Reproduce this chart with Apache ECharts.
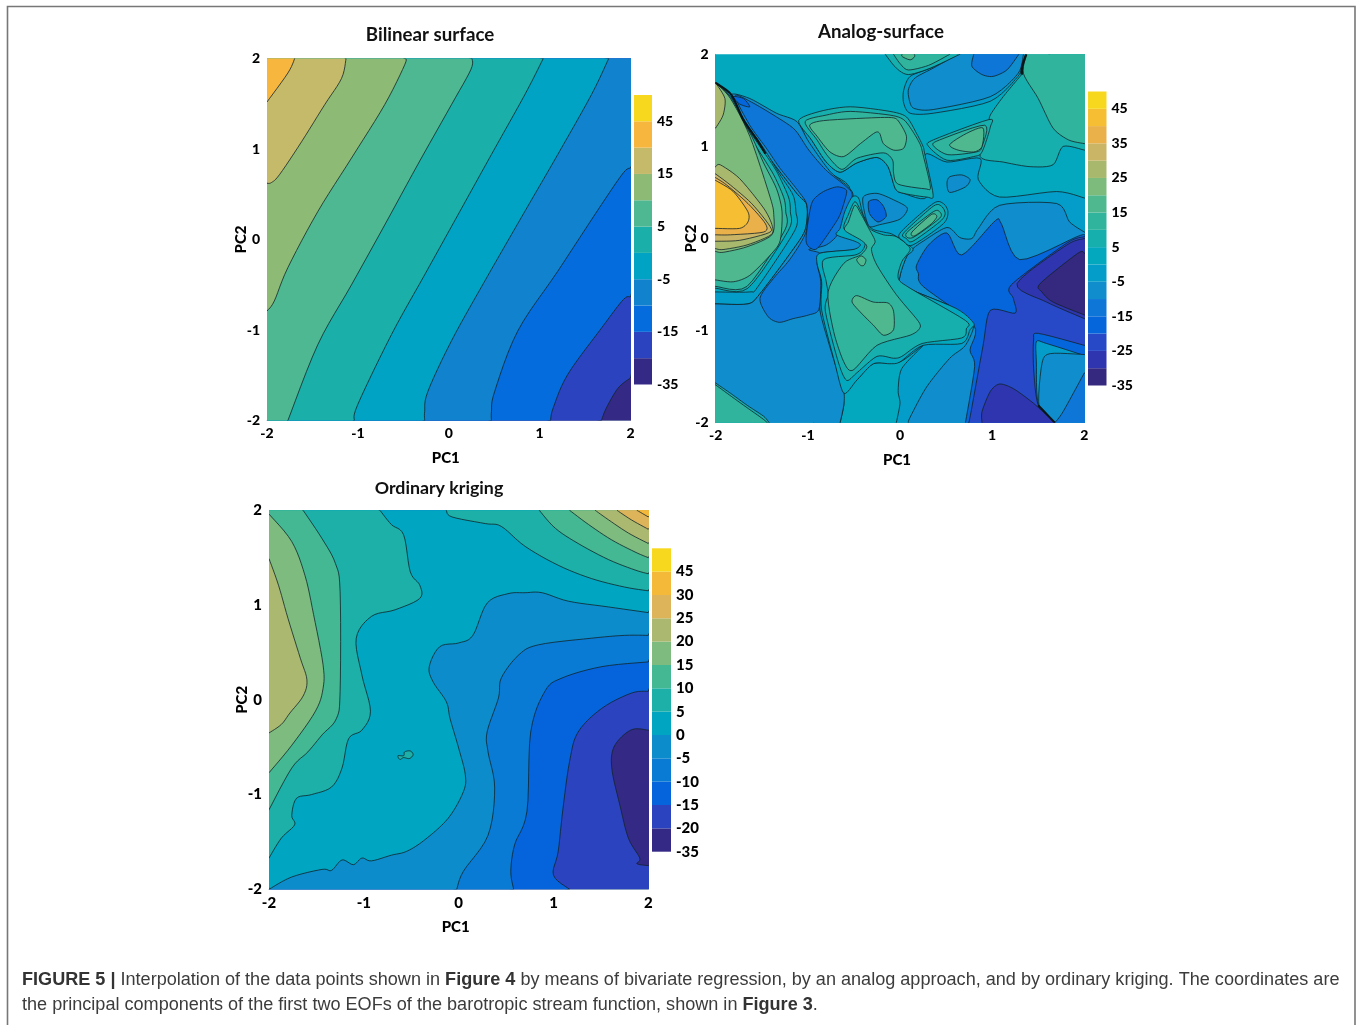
<!DOCTYPE html>
<html>
<head>
<meta charset="utf-8">
<style>html,body{margin:0;padding:0;background:#fff}#c{width:1357px;height:1025px}</style>
<script src="https://cdn.jsdelivr.net/npm/echarts@6/dist/echarts.min.js"></script>
</head>
<body>
<div id="c"></div>
<script>
// ---------- texts ----------
const panelTitles = ['Bilinear surface', 'Analog-surface', 'Ordinary kriging'];
const axisTicks = [-2, -1, 0, 1, 2];
const captionLine1 = '{b|FIGURE 5 |} Interpolation of the data points shown in {b|Figure 4} by means of bivariate regression, by an analog approach, and by ordinary kriging. The coordinates are';
const captionLine2 = 'the principal components of the first two EOFs of the barotropic stream function, shown in {b|Figure 3}.';

// ---------- colour levels, bottom to top ----------
const bilinearColors = ['#342A85','#2C43C0','#046CDC','#1182CE','#00A3C3','#1BAFA9','#4DB891','#8DBA74','#C5B96A','#F7B73E','#F8D81E'];
const analogColors = ['#35287F','#2E35AE','#2748C7','#0566DC','#0E76D6','#0F8DCC','#049CC8','#03A8BE','#17AFAD','#30B49D','#4FB88F','#7DBB7C','#A8B96E','#C9B565','#EAB04A','#F6BF33','#F8D81E'];
const krigingColors = ['#342A85','#2C43C0','#0564DC','#0A7BD4','#0D8CCB','#00A5C1','#1CB0A8','#43B892','#7DBB7F','#ABB970','#DDB45A','#F5B93A','#F8D81E'];

// colour bar tick labels, one per level boundary from the bottom
const bilinearBarLabels = ['-35','','-15','','-5','','5','','15','','45',''];
const analogBarLabels = ['-35','','-25','','-15','','-5','','5','','15','','25','','35','','45',''];
const krigingBarLabels = ['-35','-20','-15','-10','-5','0','5','10','15','20','25','30','45',''];

// ---------- helper anchor points beyond the axes (PC1, PC2) ----------
const TL = [-3, 3], TR = [3, 3], BL = [-3, -3], BR = [3, -3];

// ---------- Bilinear surface contours (PC1, PC2) ----------
const bi9 = [[2,-1.53],[1.865,-1.64],[1.735,-1.86],[1.68,-2]];
const bi8 = [[2,-.635],[1.92,-.665],[1.68,-.98],[1.31,-1.49],[1.15,-1.86],[1.12,-2]];
const bi7 = [[2,.79],[1.92,.735],[1.68,.385],[1.2,-.35],[.76,-1.01],[.505,-1.68],[.47,-1.9],[.47,-2]];
const bi6 = [[1.76,2],[1.57,1.6],[1.2,.94],[.837,.31],[.396,-.46],[.03,-1.12],[-.23,-1.68],[-.265,-1.9],[-.265,-2]];
const bi5 = [[1.04,2],[.837,1.6],[.47,.94],[.1,.27],[-.265,-.39],[-.63,-1.05],[-1,-1.82],[-1.04,-2]];
const bi4 = [[.257,2],[.242,1.875],[.03,1.49],[-.34,.83],[-.705,.16],[-1.07,-.5],[-1.44,-1.16],[-1.77,-2]];
const bi3 = [[-.48,2],[-.485,1.93],[-.705,1.49],[-1.07,.9],[-1.44,.31],[-1.77,-.31],[-1.92,-.68],[-2,-.79]];
const bi2 = [[-1.13,2],[-1.18,1.78],[-1.365,1.49],[-1.62,1.08],[-1.86,.72],[-1.95,.63],[-2,.62]];
const bi1 = [[-1.695,2],[-1.77,1.84],[-2,1.52]];

// ---------- Ordinary kriging contours (PC1, PC2) ----------
const krB3 = [[1.17,-2],[1,-1.85],[1.05,-1.6],[1.1,-1.15],[1.17,-.65],[1.26,-.34],[1.51,-.09],[1.82,.07],[2,.09]];
const krB2 = [[.58,-2],[.55,-1.81],[.59,-1.53],[.72,-1.18],[.76,-.34],[.91,.09],[1.09,.23],[1.51,.35],[2,.4]];
const krB1 = [[-.02,-2],[.05,-1.81],[.31,-1.43],[.38,-.93],[.31,-.55],[.3,-.34],[.42,.02],[.45,.23],[.63,.47],[.84,.58],[1.4,.65],[1.75,.68],[2,.68]];
const krB0 = [[-2,-2],[-1.76,-1.87],[-1.44,-1.79],[-1.34,-1.8],[-1.23,-1.69],[-1.11,-1.74],[-1.02,-1.67],[-.92,-1.7],[-.71,-1.64],[-.55,-1.6],[-.36,-1.48],[-.11,-1.25],[.05,-.97],[.07,-.79],[0,-.51],[-.09,-.2],[-.13,-.02],[-.27,.19],[-.31,.35],[-.2,.56],[0,.6],[.15,.68],[.3,1.02],[.52,1.12],[.7,1.13],[.88,1.13],[1.16,1.04],[1.58,.98],[2,.92]];
const krB4 = [[2,-.32],[1.84,-.31],[1.7,-.41],[1.62,-.55],[1.62,-.76],[1.7,-1.11],[1.79,-1.46],[1.91,-1.67],[1.88,-1.73],[2,-1.75]];
const krR1 = [[-.13,2],[-.07,1.93],[.28,1.86],[.45,1.83],[.7,1.62],[1.05,1.42],[1.4,1.28],[1.75,1.19],[2,1.15]];
const krR2 = [[.85,2],[1.02,1.81],[1.26,1.65],[1.58,1.48],[1.86,1.37],[2,1.33]];
const krR3 = [[1.17,2],[1.37,1.85],[1.61,1.69],[1.86,1.56],[2,1.5]];
const krR4 = [[1.44,2],[1.58,1.9],[1.79,1.76],[2,1.65]];
const krR5 = [[1.67,2],[1.82,1.9],[2,1.8]];
const krR6 = [[1.88,2],[2,1.93]];
const krL4 = [[-.83,2],[-.71,1.85],[-.58,1.74],[-.51,1.35],[-.41,1.21],[-.41,1.07],[-.67,.95],[-.92,.88],[-1.08,.65],[-1.02,.26],[-.93,-.12],[-1.02,-.32],[-1.16,-.41],[-1.23,-.72],[-1.34,-.92],[-1.55,-1],[-1.71,-1.04],[-1.76,-1.22],[-1.73,-1.32],[-1.87,-1.46],[-2,-1.67]];
const krL3 = [[-1.64,2],[-1.44,1.7],[-1.3,1.44],[-1.25,1.14],[-1.25,.09],[-1.29,-.2],[-1.44,-.37],[-1.59,-.55],[-1.76,-.72],[-2,-1.16]];
const krL2 = [[-2,1.96],[-1.76,1.67],[-1.62,1.31],[-1.53,.9],[-1.43,.37],[-1.43,.12],[-1.51,-.12],[-1.76,-.48],[-2,-.77]];
const krL1 = [[-2,1.49],[-1.9,1.21],[-1.8,.86],[-1.67,.44],[-1.6,.21],[-1.64,.04],[-1.78,-.14],[-1.87,-.26],[-2,-.35]];
const krSpot = [[-.64,-.59],[-.58,-.59],[-.57,-.55],[-.51,-.54],[-.48,-.58],[-.52,-.62],[-.58,-.61],[-.62,-.63]];

// ---------- Analog surface contours (PC1, PC2) ----------
const anC6 = [[-.94,-2],[-.87,-.83],[-.87,-.18],[-.54,.51],[-.8,.74],[-.99,1.03],[-1.09,1.27],[-.96,1.07],[-.8,.83],[-.65,.72],[-.47,.82],[-.25,.88],[-.13,.78],[-.05,.54],[.04,.49],[.29,.45],[.27,.91],[.51,.83],[.87,.87],[.85,.64],[1.08,.45],[1.7,.51],[2,.44]];
const anT2 = [[1.37,2],[1.32,1.88],[1.28,1.76],[.98,1.49],[.36,1.36],[.11,1.36],[.04,1.47],[.04,1.61],[.11,1.76],[.33,1.85],[.65,2]];
const anT3 = [[1.34,2],[1.28,1.79],[.98,1.54],[.36,1.4],[.16,1.41],[.11,1.47],[.09,1.61],[.16,1.74],[.36,1.85],[.63,2]];
const anT4 = [[.8,2],[.78,1.87],[.89,1.78],[1.01,1.76],[1.16,1.83],[1.29,2]];
const anT1 = [[-.16,2],[-.04,1.85],[.09,1.78],[.33,1.85],[.65,2]];
const anT1b = [[-.07,2],[0,1.9],[.09,1.83],[.31,1.88],[.54,2]];
const anT1c = [[.02,1.98],[.11,1.94],[.16,1.98],[.13,2.03],[.05,2.03]];
const anT5 = [[1.32,1.78],[1.12,1.54],[.98,1.34],[.96,1.23],[.87,.89],[1.12,.83],[1.41,.78],[1.66,.8],[1.77,1],[2,.96]];
const anT6 = [[1.37,2],[1.34,1.79],[1.5,1.52],[1.66,1.2],[1.83,1.07],[2,1.03]];
const anV0 = [[.31,1],[.36,1.07],[.96,1.29],[.98,1.21],[.89,.94],[.8,.89],[.51,.85]];
const anV1 = [[.36,1.01],[.43,1.07],[.92,1.23],[.89,1],[.83,.94],[.52,.91]];
const anV2 = [[.54,1.02],[.72,1.14],[.9,1.2],[.89,1],[.8,.94],[.63,.96]];
const anE = [[.51,.6],[.54,.67],[.67,.69],[.76,.64],[.71,.56],[.54,.5]];
const anQ = [[.09,-2],[.11,-1.94],[.29,-1.61],[.54,-1.3],[.71,-1.16],[.8,-.92],[.61,-.76],[.04,-.52],[0,-.41],[.07,-.2],[.14,-.11],[.25,-.03],[.51,.12],[.65,.01],[.78,0],[.85,.11],[1.08,.36],[1.7,.38],[1.84,.18],[2,.07]];
const anLC = [[-.65,-2],[-.61,-1.81],[-.61,-1.68],[-.47,-1.54],[-.29,-1.36],[0,-1.34],[.25,-1.16],[.02,-1.41],[-.02,-1.65],[0,-1.79],[-.04,-2]];
const anK = [[.71,-2],[.81,-1.39],[.76,-1.21],[.8,-.94],[.25,-.52],[.2,-.38],[.18,-.29],[.31,-.07],[.51,.06],[.67,-.18],[1.03,.19],[1.1,.16],[1.3,-.23],[1.92,.02],[2,.04]];
const anA = [[.74,-2],[.76,-1.94],[.9,-1.17],[.98,-.78],[1.25,-.81],[1.23,-.65],[1.21,-.5],[1.81,-.05],[2,.02]];
const anB1 = [[2,0],[1.81,-.07],[1.27,-.49],[1.59,-.69],[2,-.87]];
const anB0 = [[2,-.16],[1.93,-.16],[1.52,-.49],[1.54,-.58],[1.66,-.69],[2,-.83]];
const anP1 = [[1.68,-2],[1.5,-1.81],[1.45,-1.41],[1.45,-1.1],[1.5,-1.03],[2,-1.16]];
const anP2 = [[1.68,-2],[1.5,-1.79],[1.48,-1.34],[1.48,-1.12],[1.59,-1.14],[2,-1.27]];
const anP3 = [[1.68,-2],[1.51,-1.83],[1.54,-1.36],[1.63,-1.25],[2,-1.26]];
const anCorner = [[1.68,-2],[1.77,-1.88],[2,-1.46]];
const anTri = [[.89,-2],[.89,-1.88],[.98,-1.66],[1.08,-1.58],[1.23,-1.63],[1.45,-1.79],[1.68,-2]];
const anS = [[-2,-.71],[-1.65,-.71],[-1.52,-.6],[-1.19,-.16],[-1.03,.09],[-1.01,.36],[-1.12,.49],[-1.45,.92],[-1.7,1.3],[-1.83,1.56],[-2,1.69]];
const anM = [[-2,-.71],[-1.65,-.71],[-1.52,-.6],[-1.19,-.16],[-1.03,.09],[-1.01,.36],[-1.12,.49],[-1.45,.92],[-1.7,1.3],[-1.83,1.56],[-1.63,1.52],[-1.34,1.36],[-1.12,1.27],[-.99,1.05],[-.76,.73],[-.56,.56],[-.51,.45],[-.61,.22],[-.67,.07],[-.51,0],[-.42,-.06],[-.49,-.12],[-.87,-.16],[-.9,-.27],[-.85,-.47],[-.87,-.78],[-.69,-1.41],[-.61,-1.66],[-.61,-1.81],[-.65,-2]];
const anD = [[-1.79,1.55],[-1.61,1.48],[-1.34,1.32],[-1.14,1.18],[-.99,.96],[-.8,.74],[-.58,.56],[-.52,.45],[-.66,.07],[-.8,-.07],[-.99,-.12],[-.87,-.16],[-.9,-.27],[-.86,-.47],[-.88,-.77],[-.99,-.83],[-1.16,-.87],[-1.31,-.91],[-1.43,-.85],[-1.52,-.65],[-1.37,-.43],[-1.19,-.22],[-1.02,.07],[-1.01,.36],[-1.1,.51],[-1.3,.76],[-1.45,.98],[-1.63,1.23]];
const anPatch = [[-.69,.56],[-.6,.54],[-.58,.49],[-.65,.26],[-.74,.11],[-.9,-.11],[-.99,-.09],[-1.02,0],[-.98,.29],[-.94,.42],[-.83,.51]];
const anTip = [[-1.81,1.54],[-1.7,1.52],[-1.63,1.43],[-1.74,1.46]];
const anNa = [[-2,-.58],[-1.63,-.58],[-1.54,-.52],[-1.14,.09],[-1.13,.29],[-1.16,.47],[-1.3,.69],[-1.48,.98],[-1.7,1.29],[-1.84,1.54],[-2,1.69]];
const anNb = [[-2,-.54],[-1.65,-.54],[-1.21,.09],[-1.19,.29],[-1.21,.45],[-1.34,.73],[-1.52,1],[-1.72,1.29],[-1.85,1.53],[-2,1.69]];
const anNc = [[-2,-.52],[-1.66,-.52],[-1.25,.09],[-1.24,.29],[-1.26,.44],[-1.37,.69],[-1.55,.98],[-1.74,1.27],[-1.86,1.52],[-2,1.69]];
const anNd = [[-2,-.45],[-1.81,-.47],[-1.63,-.4],[-1.39,-.16],[-1.3,-.02],[-1.28,.29],[-1.34,.54],[-1.48,.82],[-1.61,1.11],[-1.75,1.34],[-1.9,1.54],[-2,1.69]];
const anNe = [[-2,-.14],[-1.92,-.15],[-1.66,-.09],[-1.39,.04],[-1.37,.26],[-1.41,.45],[-1.63,1.11],[-1.84,1.52],[-2,1.69]];
const anNk = [[-2,1.69],[-1.9,1.52],[-1.92,1.34],[-2,1.2]];
const anNf = [[-2,.78],[-1.95,.8],[-1.74,.65],[-1.48,.33],[-1.39,.15],[-1.4,.04],[-1.66,-.07],[-1.92,-.12],[-2,-.11]];
const anNg = [[-2,.7],[-1.84,.58],[-1.61,.38],[-1.41,.13],[-1.43,.06],[-1.74,-.02],[-2,-.03]];
const anNh = [[-2,.66],[-1.88,.58],[-1.65,.38],[-1.46,.16],[-1.48,.07],[-1.84,.04],[-2,.04]];
const anNi = [[-2,.63],[-1.81,.51],[-1.65,.29],[-1.65,.18],[-1.74,.11],[-2,.11]];
const anBL1 = [[-2,-1.57],[-1.84,-1.68],[-1.66,-1.81],[-1.48,-1.93],[-1.42,-2]];
const anBL2 = [[-2,-1.59],[-1.85,-1.7],[-1.67,-1.83],[-1.5,-1.95],[-1.44,-2]];
const anU1 = [[-1.1,1.28],[-.87,1.38],[-.54,1.43],[-.11,1.38],[.07,1.32],[.18,1.14],[.25,1],[.27,.91],[.36,.47],[.29,.45],[.04,.49],[-.05,.54],[-.13,.78],[-.25,.88],[-.47,.82],[-.65,.72],[-.8,.83],[-.96,1.07]];
const anU2 = [[-1.03,1.27],[-.8,1.34],[-.54,1.38],[-.11,1.34],[.04,1.29],[.14,1.16],[.22,1.02],[.25,.91],[.33,.56],[.27,.54],[-.02,.59],[-.07,.71],[-.08,.85],[-.18,.93],[-.47,.87],[-.63,.75],[-.78,.89],[-.9,1.07]];
const anU3 = [[-.98,1.23],[-.83,1.28],[-.31,1.31],[-.07,1.31],[0,1.25],[.07,1.11],[.04,.98],[-.07,.96],[-.18,1.03],[-.22,1.14],[-.27,1.15],[-.43,1.03],[-.61,.89],[-.76,.94],[-.9,1.11]];
const anM3 = [[-.07,.04],[-.18,.07],[-.31,.11],[-.4,.26],[-.45,.44],[-.52,.45],[-.6,.29],[-.65,.11],[-.69,.04],[-.49,-.03],[-.43,-.07],[-.51,-.12],[-.87,-.16],[-.9,-.27],[-.85,-.47],[-.85,-.78],[-.71,-1.34],[-.61,-1.68],[-.47,-1.54],[-.29,-1.36],[-.11,-1.36],[0,-1.34],[.25,-1.16],[.67,-1.14],[.76,-.99],[.8,-.92],[.61,-.76],[.04,-.52],[0,-.41],[.07,-.2],[.14,-.11]];
const anZ2 = [[-.49,.4],[-.56,.26],[-.61,.11],[-.47,.04],[-.38,-.03],[-.4,-.12],[-.49,-.18],[-.83,-.23],[-.8,-.47],[-.78,-.61],[-.81,-.79],[-.67,-1.34],[-.58,-1.54],[-.47,-1.46],[-.25,-1.28],[-.07,-1.3],[.02,-1.28],[.24,-1.14],[.67,-1.08],[.72,-.98],[.71,-.89],[.11,-.54],[-.02,-.43],[.02,-.25],[.11,-.11],[-.04,.02],[-.18,.04],[-.33,.11],[-.42,.29]];
const anZ3 = [[-.49,.36],[-.56,.18],[-.6,.09],[-.42,-.02],[-.36,-.09],[-.43,-.18],[-.61,-.27],[-.78,-.58],[-.72,-1.01],[-.61,-1.34],[-.51,-1.43],[-.25,-1.16],[.11,-1.05],[.21,-.98],[.2,-.9],[-.04,-.61],[-.25,-.29],[-.31,-.12],[-.27,-.03],[-.34,.11],[-.42,.26]];
const anBlob = [[-.52,-.69],[-.47,-.62],[-.29,-.69],[-.13,-.7],[-.07,-.79],[-.07,-.99],[-.18,-1.05],[-.29,-.94],[-.42,-.81]];
const anSmall = [[-.47,-.23],[-.42,-.19],[-.37,-.23],[-.39,-.29],[-.43,-.29]];
const anBb = [[-.4,.45],[-.25,.49],[-.07,.42],[.08,.33],[0,.21],[-.22,.15],[-.33,.13],[-.38,.26]];
const anBb2 = [[-.34,.4],[-.25,.42],[-.18,.35],[-.15,.24],[-.24,.18],[-.33,.27]];
const anCap1 = [[0,.06],[.36,.38],[.47,.38],[.52,.29],[.47,.16],[.14,-.07],[.04,-.03]];
const anCap2 = [[.04,.06],[.36,.35],[.45,.35],[.49,.27],[.43,.18],[.14,-.03],[.07,0]];
const anCap3 = [[.07,.06],[.36,.29],[.43,.29],[.43,.22],[.14,.01]];
const anCap4 = [[.13,.07],[.34,.26],[.4,.24],[.34,.16],[.16,.03]];
// bundles of coincident contours that read as one heavy line
const anHeavy1 = [[-2,1.69],[-1.83,1.56],[-1.7,1.29],[-1.55,1.07],[-1.46,.92]];
const anHeavy2 = [[1.37,2],[1.33,1.88],[1.32,1.78]];
const anHeavy3 = [[1.5,-1.81],[1.68,-2]];

// Each layer: [colour level, contour, anchors that close it outside the axes]; level -1 = line only, 4th item its width
const fullArea = [[-3,3],[3,3],[3,-3],[-3,-3]];
const bilinearLayers = [
  [0, fullArea, null],
  [1, bi9, [BL,TL,TR]], [2, bi8, [BL,TL,TR]], [3, bi7, [BL,TL,TR]],
  [4, bi6, [BL,TL]], [5, bi5, [BL,TL]], [6, bi4, [BL,TL]],
  [7, bi3, [TL]], [8, bi2, [TL]], [9, bi1, [TL]]
];
const krigingLayers = [
  [1, fullArea, null],
  [2, krB3, [TR,TL,BL]], [3, krB2, [TR,TL,BL]], [4, krB1, [TR,TL,BL]], [5, krB0, [TR,TL]],
  [0, krB4, [[3,-1.75],[3,-.32]]],
  [6, krR1, [TR,[-.13,3]]], [7, krR2, [TR]], [8, krR3, [TR]], [9, krR4, [TR]], [10, krR5, [TR]], [11, krR6, [TR]],
  [6, krL4, [BL,TL]], [7, krL3, [BL,TL]], [8, krL2, [[-3,-.77],[-3,1.96]]], [9, krL1, [[-3,-.35],[-3,1.49]]],
  [6, krSpot, null]
];
const analogLayers = [
  [7, fullArea, null],
  [6, anC6, [[3,.44],BR,[-.94,-3]]],
  [6, anT2, [[.65,3],[1.37,3]]], [5, anT3, [[.63,3],[1.34,3]]], [4, anT4, [[1.29,3],[.8,3]]],
  [8, anT1, [[.65,3],[-.16,3]]], [9, anT1b, [[.54,3],[-.07,3]]], [10, anT1c, null],
  [8, anT5, [[3,.96],TR]], [9, anT6, [[3,1.03],TR,[1.37,3]]],
  [8, anV0, null], [9, anV1, null], [10, anV2, null], [5, anE, null],
  [5, anQ, [[3,.07],BR,[.09,-3]]],
  [7, anLC, [[-.04,-3],[-.65,-3]]],
  [3, anK, [[3,.04],BR,[.71,-3]]],
  [2, anA, [[3,.02],BR,[.74,-3]]],
  [1, anB1, [[3,-.87],[3,0]]], [0, anB0, [[3,-.83],[3,-.16]]],
  [3, anP1, [[3,-1.16],BR,[1.68,-3]]], [6, anP2, [[3,-1.27],BR,[1.68,-3]]],
  [5, anP3, [[3,-1.26],BR,[1.68,-3]]], [4, anCorner, [[3,-1.46],BR,[1.68,-3]]],
  [1, anTri, [[1.68,-3],[.89,-3]]],
  [6, anS, [[-3,1.69],[-3,-.71]]],
  [5, anM, [[-.65,-3],BL,[-3,-.71]]],
  [4, anD, null], [3, anPatch, null], [3, anTip, null],
  [7, anNa, [[-3,1.69],[-3,-.58]]], [8, anNb, [[-3,1.69],[-3,-.54]]], [9, anNc, [[-3,1.69],[-3,-.52]]],
  [10, anNd, [[-3,1.69],[-3,-.45]]], [11, anNe, [[-3,1.69],[-3,-.14]]],
  [12, anNk, [[-3,1.2],[-3,1.69]]],
  [12, anNf, [[-3,-.11],[-3,.78]]], [13, anNg, [[-3,-.03],[-3,.7]]], [14, anNh, [[-3,.04],[-3,.66]]], [15, anNi, [[-3,.11],[-3,.63]]],
  [8, anBL1, [[-1.42,-3],BL,[-3,-1.57]]], [9, anBL2, [[-1.44,-3],BL,[-3,-1.59]]],
  [8, anU1, null], [9, anU2, null], [10, anU3, null],
  [7, anM3, null], [8, anZ2, null], [9, anZ3, null], [10, anBlob, null], [10, anSmall, null],
  [5, anBb, null], [3, anBb2, null],
  [7, anCap1, null], [8, anCap2, null], [9, anCap3, null], [10, anCap4, null],
  [-1, anHeavy1, null, 2.2], [-1, anHeavy2, null, 2.4], [-1, anHeavy3, null, 2]
];

// ---------- layout ----------
const FONT = 'Lato, "Open Sans", sans-serif';
const panels = [
  {layers: bilinearLayers, colors: bilinearColors, bar: bilinearBarLabels, title: panelTitles[0], k: 0.5,
   plot: {left: 267, top: 58.5, width: 363.5, height: 362}, cbar: {left: 634, top: 95, width: 18, height: 289.5},
   titleAt: [430, 25], titleSize: 18.7, xName: 30, yName: 18, tick: 14},
  {layers: analogLayers, colors: analogColors, bar: analogBarLabels, title: panelTitles[1], k: 0.4,
   plot: {left: 715.7, top: 54.3, width: 368.6, height: 368.4}, cbar: {left: 1088, top: 91.5, width: 18.5, height: 294},
   titleAt: [881, 22], titleSize: 18.7, xName: 30, yName: 17, tick: 14},
  {layers: krigingLayers, colors: krigingColors, bar: krigingBarLabels, title: panelTitles[2], k: 0.5,
   plot: {left: 269, top: 510.3, width: 379.3, height: 379}, cbar: {left: 652, top: 548.3, width: 19, height: 303.4},
   titleAt: [439, 478], titleSize: 17.8, xName: 30, yName: 19, tick: 15}
];

// Hermite spline through the contour vertices, in pixel space
function spline(pts, closed, K) {
  const n = pts.length, out = [], STEPS = 6;
  const at = i => closed ? pts[(i + n) % n] : pts[Math.max(0, Math.min(n - 1, i))];
  const segs = closed ? n : n - 1;
  for (let i = 0; i < segs; i++) {
    const p0 = at(i - 1), p1 = at(i), p2 = at(i + 1), p3 = at(i + 2);
    for (let s = 0; s < STEPS; s++) {
      const t = s / STEPS, t2 = t * t, t3 = t2 * t;
      const h00 = 2*t3 - 3*t2 + 1, h10 = t3 - 2*t2 + t, h01 = -2*t3 + 3*t2, h11 = t3 - t2;
      out.push([
        h00*p1[0] + h10*K*(p2[0]-p0[0]) + h01*p2[0] + h11*K*(p3[0]-p1[0]),
        h00*p1[1] + h10*K*(p2[1]-p0[1]) + h01*p2[1] + h11*K*(p3[1]-p1[1])
      ]);
    }
  }
  if (!closed) out.push(pts[n - 1]);
  return out;
}

const LINE = 'rgba(18,36,40,0.88)';
function contourSeries(panel, idx) {
  return {
    type: 'custom', coordinateSystem: 'cartesian2d', xAxisIndex: idx * 2, yAxisIndex: idx * 2,
    clip: true, silent: true, animation: false,
    data: panel.layers.map((l, i) => [0, 0, i]),
    encode: {x: 0, y: 1},
    renderItem: function (params, api) {
      const layer = panel.layers[params.dataIndex];
      const px = layer[1].map(p => api.coord(p));
      if (layer[0] < 0) {
        return {type: 'polyline', shape: {points: spline(px, false, panel.k)},
          style: {fill: null, stroke: '#0b1416', lineWidth: layer[3]}};
      }
      let points = layer[1] === fullArea ? px : spline(px, !layer[2], panel.k);
      if (layer[2]) points = points.concat(layer[2].map(p => api.coord(p)));
      return {
        type: 'polygon', shape: {points: points},
        style: {fill: panel.colors[layer[0]], stroke: LINE, lineWidth: 0.9}
      };
    }
  };
}

function barSeries(panel, idx) {
  return {
    type: 'custom', coordinateSystem: 'cartesian2d', xAxisIndex: idx * 2 + 1, yAxisIndex: idx * 2 + 1,
    silent: true, animation: false,
    data: panel.colors.map((c, i) => [0, i]),
    encode: {x: 0, y: 1},
    renderItem: function (params, api) {
      const a = api.coord([0, api.value(1)]), b = api.coord([1, api.value(1) + 1]);
      return {type: 'rect', shape: {x: a[0], y: b[1], width: b[0] - a[0], height: a[1] - b[1]},
        style: {fill: panel.colors[params.dataIndex]}};
    }
  };
}

const grids = [], xAxes = [], yAxes = [], series = [], titles = [];
panels.forEach((p, idx) => {
  grids.push(Object.assign({}, p.plot), Object.assign({}, p.cbar));
  const frameLine = {show: true, lineStyle: {color: '#a9bcc4', width: 1}};
  const label = {fontFamily: FONT, fontWeight: 900, fontSize: p.tick, color: '#000'};
  const nameStyle = {fontFamily: FONT, fontWeight: 900, fontSize: 15, color: '#000'};
  xAxes.push({gridIndex: idx * 2, type: 'value', min: -2, max: 2, interval: 1, name: 'PC1', nameLocation: 'middle', nameGap: p.xName, nameMoveOverlap: false,
    nameTextStyle: Object.assign({padding: [0, 6, 0, 0]}, nameStyle),
    axisLine: Object.assign({onZero: false}, frameLine), axisTick: {show: false}, splitLine: {show: false}, axisLabel: Object.assign({margin: 6, formatter: v => axisTicks.includes(v) ? String(v) : ''}, label)});
  yAxes.push({gridIndex: idx * 2, type: 'value', min: -2, max: 2, interval: 1, name: 'PC2', nameLocation: 'middle', nameGap: p.yName, nameMoveOverlap: false,
    nameTextStyle: nameStyle,
    axisLine: Object.assign({onZero: false}, frameLine), axisTick: {show: false}, splitLine: {show: false}, axisLabel: Object.assign({margin: 7, formatter: v => axisTicks.includes(v) ? String(v) : ''}, label)});
  xAxes.push({gridIndex: idx * 2 + 1, type: 'value', min: 0, max: 1, show: false});
  yAxes.push({gridIndex: idx * 2 + 1, type: 'value', min: 0, max: p.colors.length, interval: 1, position: 'right',
    axisLine: {show: false}, axisTick: {show: false}, splitLine: {show: false},
    axisLabel: Object.assign({margin: 5, showMinLabel: true, showMaxLabel: true, formatter: v => p.bar[v] || ''}, label)});
  series.push(contourSeries(p, idx), barSeries(p, idx));
  titles.push({text: p.title, left: p.titleAt[0], top: p.titleAt[1], textAlign: 'center', padding: 0,
    textStyle: {fontFamily: FONT, fontWeight: 'bold', fontSize: p.titleSize, color: '#111', lineHeight: 20}});
});

const capRich = {b: {fontFamily: '"Liberation Sans", Arial, sans-serif', fontWeight: 'bold', fontSize: 18.08, color: '#333'}};
const capStyle = {fontFamily: '"Liberation Sans", Arial, sans-serif', fontWeight: 'normal', fontSize: 18.08, color: '#3c3c3c', rich: capRich};
titles.push({text: captionLine1, left: 22, top: 971, padding: 0, textStyle: capStyle});
titles.push({text: captionLine2, left: 22, top: 996, padding: 0, textStyle: capStyle});

const chart = echarts.init(document.getElementById('c'), null, {renderer: 'canvas', width: 1357, height: 1025});
chart.setOption({
  animation: false, backgroundColor: '#fff',
  title: titles, grid: grids, xAxis: xAxes, yAxis: yAxes, series: series,
  graphic: [{type: 'polyline', silent: true, shape: {points: [[7.5, 1025], [7.5, 6.5], [1355, 6.5], [1355, 1025]]},
    style: {fill: null, stroke: '#777', lineWidth: 1.6}}]
});
</script>
</body>
</html>
